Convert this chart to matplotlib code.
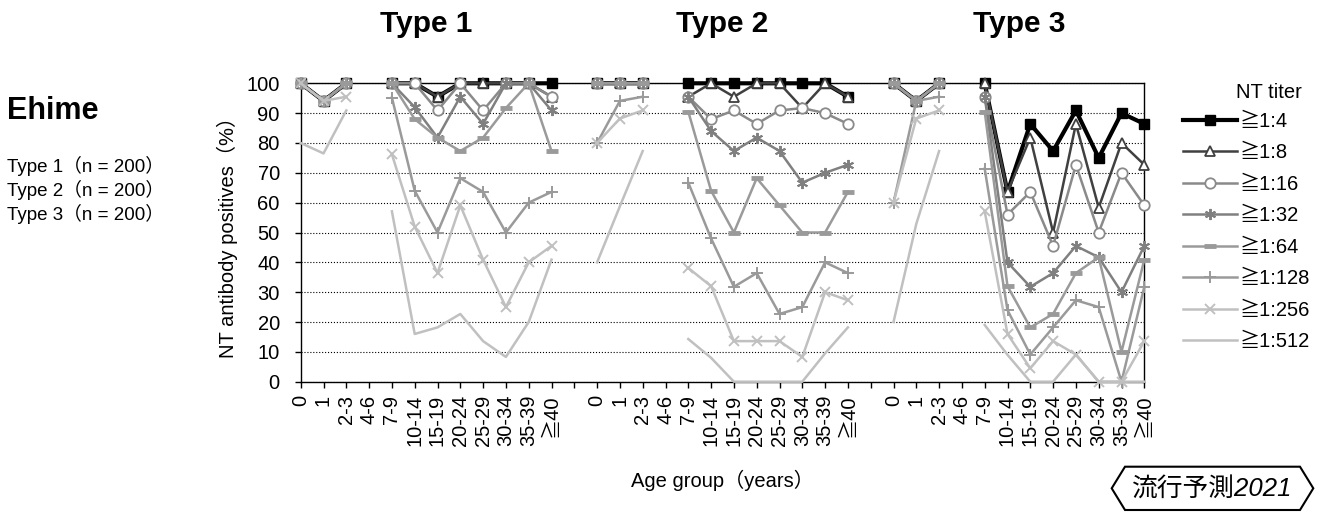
import numpy as np
import matplotlib
matplotlib.use('Agg')
import matplotlib.pyplot as plt
from matplotlib.patches import Polygon

plt.rcParams['font.family'] = ['Liberation Sans', 'Noto Sans CJK JP', 'DejaVu Sans']

# age groups (4-6 has no data)
ages = ['0', '1', '2-3', '4-6', '7-9', '10-14', '15-19', '20-24',
        '25-29', '30-34', '35-39', '≧40']
types = ['Type 1', 'Type 2', 'Type 3']
titers = ['≧1:4', '≧1:8', '≧1:16', '≧1:32', '≧1:64', '≧1:128', '≧1:256', '≧1:512']
n_samples = [200, 200, 200]
N = None

# rows = titers, cols = age groups, values in %
type1 = [
    [100, 94.1, 100, N, 100, 100, 95.5, 100, 100, 100, 100, 100],
    [100, 94.1, 100, N, 100, 100, 95.5, 100, 100, 100, 100, 95.5],
    [100, 94.1, 100, N, 100, 100, 90.9, 100, 90.9, 100, 100, 95.5],
    [100, 94.1, 100, N, 100, 92, 81.8, 95.5, 86.4, 100, 100, 90.9],
    [100, 94.1, 100, N, 100, 88, 81.8, 77.3, 81.8, 91.7, 100, 77.3],
    [100, 94.1, 100, N, 95.2, 64, 50, 68.2, 63.6, 50, 60, 63.6],
    [100, 94.1, 95.5, N, 76.2, 52, 36.4, 59.1, 40.9, 25, 40, 45.5],
    [80, 76.5, 90.9, N, 57.1, 16, 18.2, 22.7, 13.6, 8.3, 20, 40.9],
]
type2 = [
    [100, 100, 100, N, 100, 100, 100, 100, 100, 100, 100, 95.5],
    [100, 100, 100, N, 95.5, 100, 95.5, 100, 100, 91.7, 100, 95.5],
    [100, 100, 100, N, 95.5, 88, 90.9, 86.4, 90.9, 91.7, 90, 86.4],
    [100, 100, 100, N, 95.5, 84, 77.3, 81.8, 77.3, 66.7, 70, 72.7],
    [100, 100, 100, N, 90.5, 64, 50, 68.2, 59.1, 50, 50, 63.6],
    [80, 94.1, 95.5, N, 66.7, 48, 31.8, 36.4, 22.7, 25, 40, 36.4],
    [80, 88.2, 90.9, N, 38.1, 32, 13.6, 13.6, 13.6, 8.3, 30, 27.3],
    [40, 58.8, 77.3, N, 14.3, 8, 0, 0, 0, 0, 9.5, 18.2],
]
type3 = [
    [100, 94.1, 100, N, 100, 63.6, 86.4, 77.3, 90.9, 75, 90, 86.4],
    [100, 94.1, 100, N, 100, 63.6, 81.8, 50, 86.4, 58.3, 80, 72.7],
    [100, 94.1, 100, N, 95.5, 56, 63.6, 45.5, 72.7, 50, 70, 59.1],
    [100, 94.1, 100, N, 95.5, 40, 31.8, 36.4, 45.5, 41.7, 30, 45.5],
    [100, 94.1, 100, N, 90.5, 32, 18.2, 22.7, 36.4, 41.7, 10, 40.9],
    [60, 94.1, 95.5, N, 71.4, 24, 9.1, 18.2, 27.3, 25, 0, 31.8],
    [60, 88.2, 90.9, N, 57.1, 16, 4.5, 13.6, 9.1, 0, 0, 13.6],
    [20, 52.9, 77.3, N, 19, 9, 0, 0, 9.1, 0, 0, 0],
]

styles = [
    dict(color='black', lw=3.0, marker='s', ms=7, mfc='black', mec='black'),
    dict(color='#404040', lw=1.8, marker='^', ms=7, mfc='white', mec='#404040', mew=1.3),
    dict(color='#8a8a8a', lw=1.8, marker='o', ms=7.5, mfc='white', mec='#8a8a8a', mew=1.3),
    dict(color='#808080', lw=1.8, marker=(6, 2, 0), ms=8, mec='#808080', mew=1.4),
    dict(color='#9a9a9a', lw=1.8, marker='_', ms=8, mec='#9a9a9a', mew=3.5),
    dict(color='#9a9a9a', lw=1.8, marker='+', ms=8, mec='#9a9a9a', mew=1.4),
    dict(color='#c0c0c0', lw=1.8, marker='x', ms=7, mec='#c0c0c0', mew=1.4),
    dict(color='#c0c0c0', lw=1.8, marker=None),
]

W, H = 1335, 512
fig = plt.figure(figsize=(W / 100, H / 100), dpi=100)
ax = fig.add_axes([300.7 / W, 130.3 / H, 843.6 / W, 298.4 / H])

blocks = [type1, type2, type3]
step = len(ages) + 1
handles = []
for j, lab in enumerate(titers):
    xs, ys = [], []
    for k, data in enumerate(blocks):
        for i, v in enumerate(data[j]):
            xs.append(k * step + i)
            ys.append(np.nan if v is None else v)
        # gap between the three blocks
        xs.append(k * step + len(ages))
        ys.append(np.nan)
    line, = ax.plot(xs, ys, label=lab, clip_on=False, zorder=3 + j, **styles[j])
    handles.append(line)

ax.set_xlim(0, step * 3 - 2)
ax.set_ylim(0, 100)
ax.set_yticks(range(0, 101, 10))
ax.set_xticks(range(step * 3 - 1))
ax.set_xticklabels((ages + [''] + ages + [''] + ages), rotation=90)
ax.tick_params(axis='x', direction='out', length=4, width=1, labelsize=14.5, pad=5.5)
ax.tick_params(axis='y', direction='out', length=4, width=1, labelsize=14.5, pad=11)
ax.yaxis.grid(True, linestyle=':', color='black', lw=0.8)
ax.set_axisbelow(True)
for sp in ax.spines.values():
    sp.set_linewidth(1.0)
    sp.set_color('black')

ax.set_ylabel('NT antibody positives（%）', fontsize=14.5)
ax.yaxis.set_label_coords(-0.074, 0.5)
ax.set_xlabel('Age group（years）', fontsize=14.5)
ax.xaxis.set_label_coords(0.5, -0.295)

for k, t in enumerate(types):
    ax.text(k * step + (len(ages) - 1) / 2, 1.172, t, transform=ax.get_xaxis_transform(),
            ha='center', va='baseline', fontsize=21.5, fontweight='bold')

fig.text(7 / W, 1 - 119 / H, 'Ehime', fontsize=22, fontweight='bold', va='baseline')
for k, t in enumerate(types):
    fig.text(7 / W, 1 - (171.5 + 24.5 * k) / H, f'{t}（n = {n_samples[k]}）',
             fontsize=13.5, va='baseline')

fig.text(1236 / W, 1 - 93 / H, 'NT titer', fontsize=14.5, va='center')
fig.legend(handles=handles, loc='upper left', bbox_to_anchor=(1183 / W, 1 - 112 / H),
           frameon=False, fontsize=14.5, numpoints=1, handlelength=2.7,
           handletextpad=0.1, labelspacing=0.62, borderpad=0, borderaxespad=0)

# 流行予測 logo box
pts = [(1111.7, 488.3), (1125, 466.7), (1300, 466.7), (1313.3, 488.3), (1300, 510), (1125, 510)]
fig.patches.append(Polygon([(x / W, 1 - y / H) for x, y in pts], closed=True, fill=False,
                           ec='black', lw=1.5, transform=fig.transFigure))
fig.text(1212 / W, 1 - 488.5 / H, '流行予測2021', fontsize=18.5, style='italic',
         ha='center', va='center')

fig.savefig('out.png', dpi=100)
